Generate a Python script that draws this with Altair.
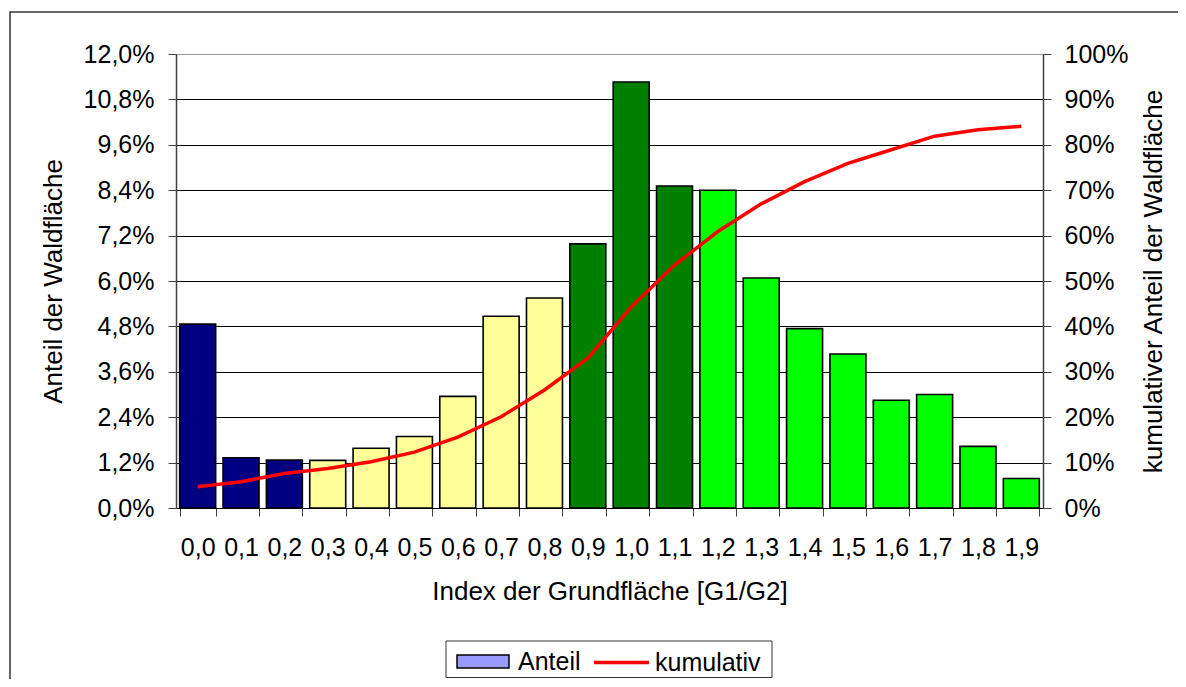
import altair as alt
import pandas as pd

# ---- data ----
kategorien = ["0,0", "0,1", "0,2", "0,3", "0,4", "0,5", "0,6", "0,7", "0,8", "0,9",
              "1,0", "1,1", "1,2", "1,3", "1,4", "1,5", "1,6", "1,7", "1,8", "1,9"]
# Anteil der Waldfläche in %
anteil = [4.86, 1.33, 1.27, 1.26, 1.58, 1.89, 2.95, 5.07, 5.55, 6.98,
          11.26, 8.51, 8.40, 6.08, 4.74, 4.07, 2.85, 3.00, 1.63, 0.78]
# kumulativer Anteil in %
kumulativ = [4.7, 5.8, 7.6, 8.7, 10.2, 12.3, 15.6, 20.1, 26.0, 33.0,
             44.3, 53.5, 60.9, 67.0, 71.9, 75.9, 78.9, 81.9, 83.3, 84.1]
# colour group of each bar
gruppen = ["A", "A", "A", "B", "B", "B", "B", "B", "B", "C",
           "C", "C", "D", "D", "D", "D", "D", "D", "D", "D"]

links_ticks = [0.0, 0.012, 0.024, 0.036, 0.048, 0.060, 0.072, 0.084, 0.096, 0.108, 0.120]
rechts_ticks = [0.0, 0.1, 0.2, 0.3, 0.4, 0.5, 0.6, 0.7, 0.8, 0.9, 1.0]

df = pd.DataFrame({
    "kat": kategorien,
    "anteil": [v / 100 for v in anteil],
    "kum": [v / 100 for v in kumulativ],
    "gruppe": gruppen,
    "serie_b": ["Anteil"] * len(kategorien),
    "serie_l": ["kumulativ"] * len(kategorien),
})

FONT = "Liberation Sans"
FS = 25
TFS = 26
W, H = 867, 454

x_enc = alt.X(
    "kat:N", sort=kategorien,
    scale=alt.Scale(paddingInner=0.17, paddingOuter=0.085),
    axis=alt.Axis(
        title="Index der Grundfläche [G1/G2]", tickBand="extent", labelAngle=0,
        tickSize=8, labelPadding=19, grid=False,
        titleX=W / 2, titleY=83, titleBaseline="middle", titleAlign="center",
        domainColor="#000000", tickColor="#404040",
    ),
)

# outer frame of the chart (decoration)
border = alt.Chart(alt.Data(values=[{"a": 1}])).mark_rect(
    fill="white", fillOpacity=0, stroke="#333333", strokeWidth=1.5
).encode(
    x=alt.value(-166), x2=alt.value(1200), y=alt.value(-42), y2=alt.value(800)
)

# frame around the legend (decoration)
legend_box = alt.Chart(alt.Data(values=[{"a": 1}])).mark_rect(
    fill="white", stroke="#333333", strokeWidth=1
).encode(
    x=alt.value(270), x2=alt.value(596), y=alt.value(587), y2=alt.value(623.5)
)

bars = alt.Chart(df).mark_bar(strokeWidth=1.6).encode(
    x=x_enc,
    y=alt.Y(
        "anteil:Q",
        scale=alt.Scale(domain=[0, 0.12], nice=False, zero=True),
        axis=alt.Axis(
            orient="left", values=links_ticks,
            labelExpr="replace(format(datum.value, '.1%'), '.', ',')",
            title="Anteil der Waldfläche", tickSize=8, labelPadding=14,
            titleAngle=270, titleX=-123, titleY=H / 2,
            titleBaseline="middle", titleAlign="center",
            grid=True,
            gridColor={"condition": {"test": "datum.value > 0.119", "value": "#999999"},
                       "value": "#000000"},
            domainColor="#404040", domainWidth=1.5, tickColor="#404040",
        ),
    ),
    fill=alt.Fill(
        "gruppe:N",
        scale=alt.Scale(domain=["A", "B", "C", "D"],
                        range=["#000080", "#FFFF99", "#008000", "#00FF00"]),
        legend=None,
    ),
    stroke=alt.Stroke(
        "serie_b:N",
        scale=alt.Scale(domain=["Anteil"], range=["#000000"]),
        legend=alt.Legend(
            title=None, orient="none", legendX=280, legendY=580.5,
            padding=0, symbolSize=2704, symbolType="M-1,-0.25H1V0.25H-1Z",
            symbolFillColor="#9999FF", symbolStrokeWidth=1.5, symbolOpacity=1,
            labelOffset=8, labelFontSize=FS, labelFont=FONT, labelColor="black",
        ),
    ),
)

line = alt.Chart(df).mark_line(strokeWidth=3.5).encode(
    x=x_enc,
    y=alt.Y(
        "kum:Q",
        scale=alt.Scale(domain=[0, 1], nice=False, zero=True),
        axis=alt.Axis(
            orient="right", values=rechts_ticks, format=".0%",
            title="kumulativer Anteil der Waldfläche", tickSize=8, labelPadding=13,
            titleAngle=270, titleX=110, titleY=H / 2,
            titleBaseline="middle", titleAlign="center",
            grid=False, domainColor="#404040", domainWidth=1.5, tickColor="#404040",
        ),
    ),
    color=alt.Color(
        "serie_l:N",
        scale=alt.Scale(domain=["kumulativ"], range=["#FF0000"]),
        legend=alt.Legend(
            title=None, orient="none", legendX=416, legendY=579,
            padding=0, symbolSize=3025, symbolType="M-1,0H1",
            symbolStrokeWidth=3.5, symbolOpacity=1,
            labelOffset=4, labelFontSize=FS, labelFont=FONT, labelColor="black",
        ),
    ),
)

chart = alt.layer(border, legend_box, bars, line).resolve_scale(y="independent").properties(
    width=W, height=H,
    autosize=alt.AutoSizeParams(type="none"),
    padding={"left": 168, "top": 46, "right": 135, "bottom": 171},
).configure(
    font=FONT,
).configure_view(
    stroke="#999999", strokeWidth=1,
).configure_axis(
    labelFont=FONT, titleFont=FONT, labelFontSize=FS, titleFontSize=TFS,
    labelColor="black", titleColor="black", titleFontWeight="normal",
)

chart.save("out.html", embed_options={"renderer": "svg", "actions": False})
